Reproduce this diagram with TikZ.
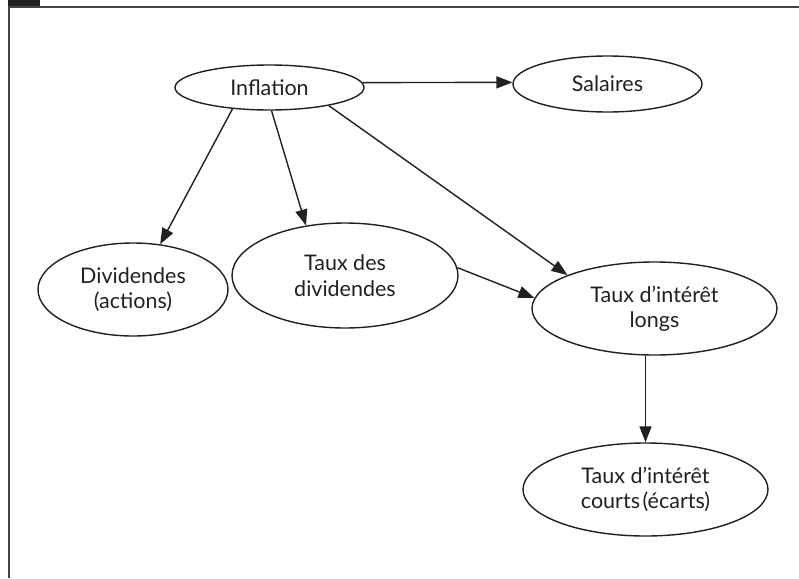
\documentclass[tikz,border=0pt]{standalone}
\usepackage{fontspec}
\setmainfont{Lato}
\usetikzlibrary{arrows.meta,shapes.geometric}
\definecolor{ink}{HTML}{231F20}
\begin{document}
\begin{tikzpicture}[x=1pt,y=-1pt,
  bub/.style={draw=ink, line width=1.4pt, ellipse, inner sep=0pt, text=ink,
    align=center, font=\fontsize{21.5}{25.5}\selectfont},
  arr/.style={draw=ink, line width=1.4pt, -{Triangle[length=16pt,width=12pt]}},
  frame/.style={draw=ink!85, line width=2pt}]
\useasboundingbox (0,0) rectangle (799,578);
% frame
\fill[ink] (8,0) rectangle (40,7);
\coordinate (fa) at (9,578);
\coordinate (fb) at (9,7.3);
\coordinate (fc) at (799,7.3);
\draw[frame] (fa) -- (fb) -- (fc);
% nodes
\node[bub, minimum width=189pt, minimum height=45pt] (infl) at (269.5,87.5) {Inflation};
\node[bub, minimum width=189pt, minimum height=56pt] (sal) at (607.5,84) {Salaires};
\node[bub, minimum width=190pt, minimum height=93pt] (div) at (133,289.5) {Dividendes\\(actions)};
\node[bub, minimum width=226pt, minimum height=105pt] (tdiv) at (345,275.5) {Taux des\\dividendes};
\node[bub, minimum width=245pt, minimum height=93pt] (longs) at (654.5,308.5) {Taux d’intérêt\\longs};
\node[bub, minimum width=245pt, minimum height=93pt] (courts) at (645.5,489.5) {Taux d’intérêt\\courts\hspace{0.12em}(écarts)};
% connectors
\draw[arr] (infl.3) -- (sal.179);
\draw[arr] (infl.210) -- (div.59);
\draw[arr] (infl.275) -- (tdiv.128);
\draw[arr] (infl.343) -- (longs.159);
\draw[arr] (tdiv.4) -- (longs.175);
\draw[arr] (courts.north |- longs.south) -- (courts.north);
\end{tikzpicture}
\end{document}
